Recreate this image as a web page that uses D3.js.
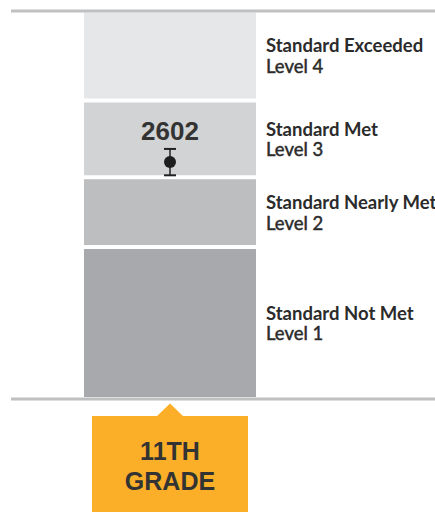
<!DOCTYPE html>
<html>
<head>
<meta charset="utf-8">
<script src="https://cdn.jsdelivr.net/npm/d3@7"></script>
<style>
	body { margin: 0; background: #fff; }
	svg { display: block; }
</style>
</head>
<body>
<svg id="svg" width="435" height="512"></svg>
<script>
"use strict";

// achievement level bands (lower cut score of each level)
const levelNames = ["Standard Not Met", "Standard Nearly Met", "Standard Met", "Standard Exceeded"];
const levelLabels = ["Level 1", "Level 2", "Level 3", "Level 4"];
const levelMins = [2299, 2493, 2583, 2682];
const scoreMax = 2795;
const levelColors = ["#a7a9ac", "#bcbec0", "#d1d3d4", "#e6e7e8"];

// student result
const score = 2602;
const scoreError = 17;
const gradeLines = ["11TH", "GRADE"];

const svg = d3.select("#svg");

const y = d3.scaleLinear().domain([levelMins[0], scoreMax]).range([397, 12.5]);
const barX = 84;
const barW = 172;
const cx = barX + barW / 2;
const gap = 2;

const bands = levelMins.map((lo, i) => ({
	name: levelNames[i],
	label: levelLabels[i],
	lo: lo,
	hi: i < levelMins.length - 1 ? levelMins[i + 1] - 0.5 : scoreMax,
	color: levelColors[i],
	first: i === 0,
	last: i === levelMins.length - 1
}));
bands.forEach((b) => {
	if (!b.first) b.lo = b.lo - 0.5;
	b.top = y(b.hi) + (b.last ? 0 : gap);
	b.bottom = y(b.lo) - (b.first ? 0 : gap);
});

// coloured level bands
svg.selectAll(".band")
	.data(bands)
	.enter()
	.append("rect")
	.attr("class", "band")
	.attr("x", barX)
	.attr("width", barW)
	.attr("y", (d) => d.top)
	.attr("height", (d) => d.bottom - d.top)
	.style("fill", (d) => d.color);

// top + bottom rules
svg.append("line")
	.attr("x1", 11).attr("x2", 435)
	.attr("y1", 11).attr("y2", 11)
	.style("stroke", "#bfc0c2")
	.style("stroke-width", "3px");
svg.append("line")
	.attr("x1", 11).attr("x2", 435)
	.attr("y1", 399).attr("y2", 399)
	.style("stroke", "#bfc0c2")
	.style("stroke-width", "3px");

// level labels
const labels = svg.selectAll(".lab")
	.data(bands)
	.enter()
	.append("text")
	.attr("class", "lab")
	.attr("x", 266)
	.attr("y", (d) => (d.top + d.bottom) / 2)
	.style("font-family", "Lato, 'Open Sans', sans-serif")
	.style("font-size", "18.5px")
	.style("fill", "#2b2b2b");
labels.append("tspan")
	.attr("x", 266)
	.attr("dy", -3)
	.style("font-weight", "bold")
	.text((d) => d.name);
labels.append("tspan")
	.attr("x", 266)
	.attr("dy", 20.5)
	.style("stroke", "#2b2b2b")
	.style("stroke-width", "0.45px")
	.text((d) => d.label);

// score with error bar
const eb = svg.append("g").attr("id", "score");
eb.append("line")
	.attr("x1", cx).attr("x2", cx)
	.attr("y1", y(score + scoreError)).attr("y2", y(score - scoreError))
	.style("stroke", "#222").style("stroke-width", "1.5px");
[score + scoreError, score - scoreError].forEach((v) => {
	eb.append("line")
		.attr("x1", cx - 6).attr("x2", cx + 6)
		.attr("y1", y(v)).attr("y2", y(v))
		.style("stroke", "#222").style("stroke-width", "2px");
});
eb.append("circle")
	.attr("cx", cx).attr("cy", y(score))
	.attr("r", 6)
	.style("fill", "#1e1e1e");
eb.append("text")
	.attr("x", cx)
	.attr("y", 139.5)
	.attr("text-anchor", "middle")
	.style("font-family", "'Liberation Sans', Arial, sans-serif")
	.style("font-weight", "bold")
	.style("font-size", "26px")
	.style("fill", "#333")
	.text(score);

// grade tag
const tag = svg.append("g").attr("id", "grade");
tag.append("path")
	.attr("d", `M${cx - 78},416 H${cx - 13} L${cx},403.5 L${cx + 13},416 H${cx + 78} V512 H${cx - 78} Z`)
	.style("fill", "#fbaf29");
tag.selectAll("text")
	.data(gradeLines)
	.enter()
	.append("text")
	.attr("x", cx)
	.attr("y", (d, i) => 460 + i * 30)
	.attr("text-anchor", "middle")
	.style("font-family", "'Liberation Sans', Arial, sans-serif")
	.style("font-weight", "bold")
	.style("font-size", "25px")
	.style("fill", "#333")
	.text((d) => d);
</script>
</body>
</html>
